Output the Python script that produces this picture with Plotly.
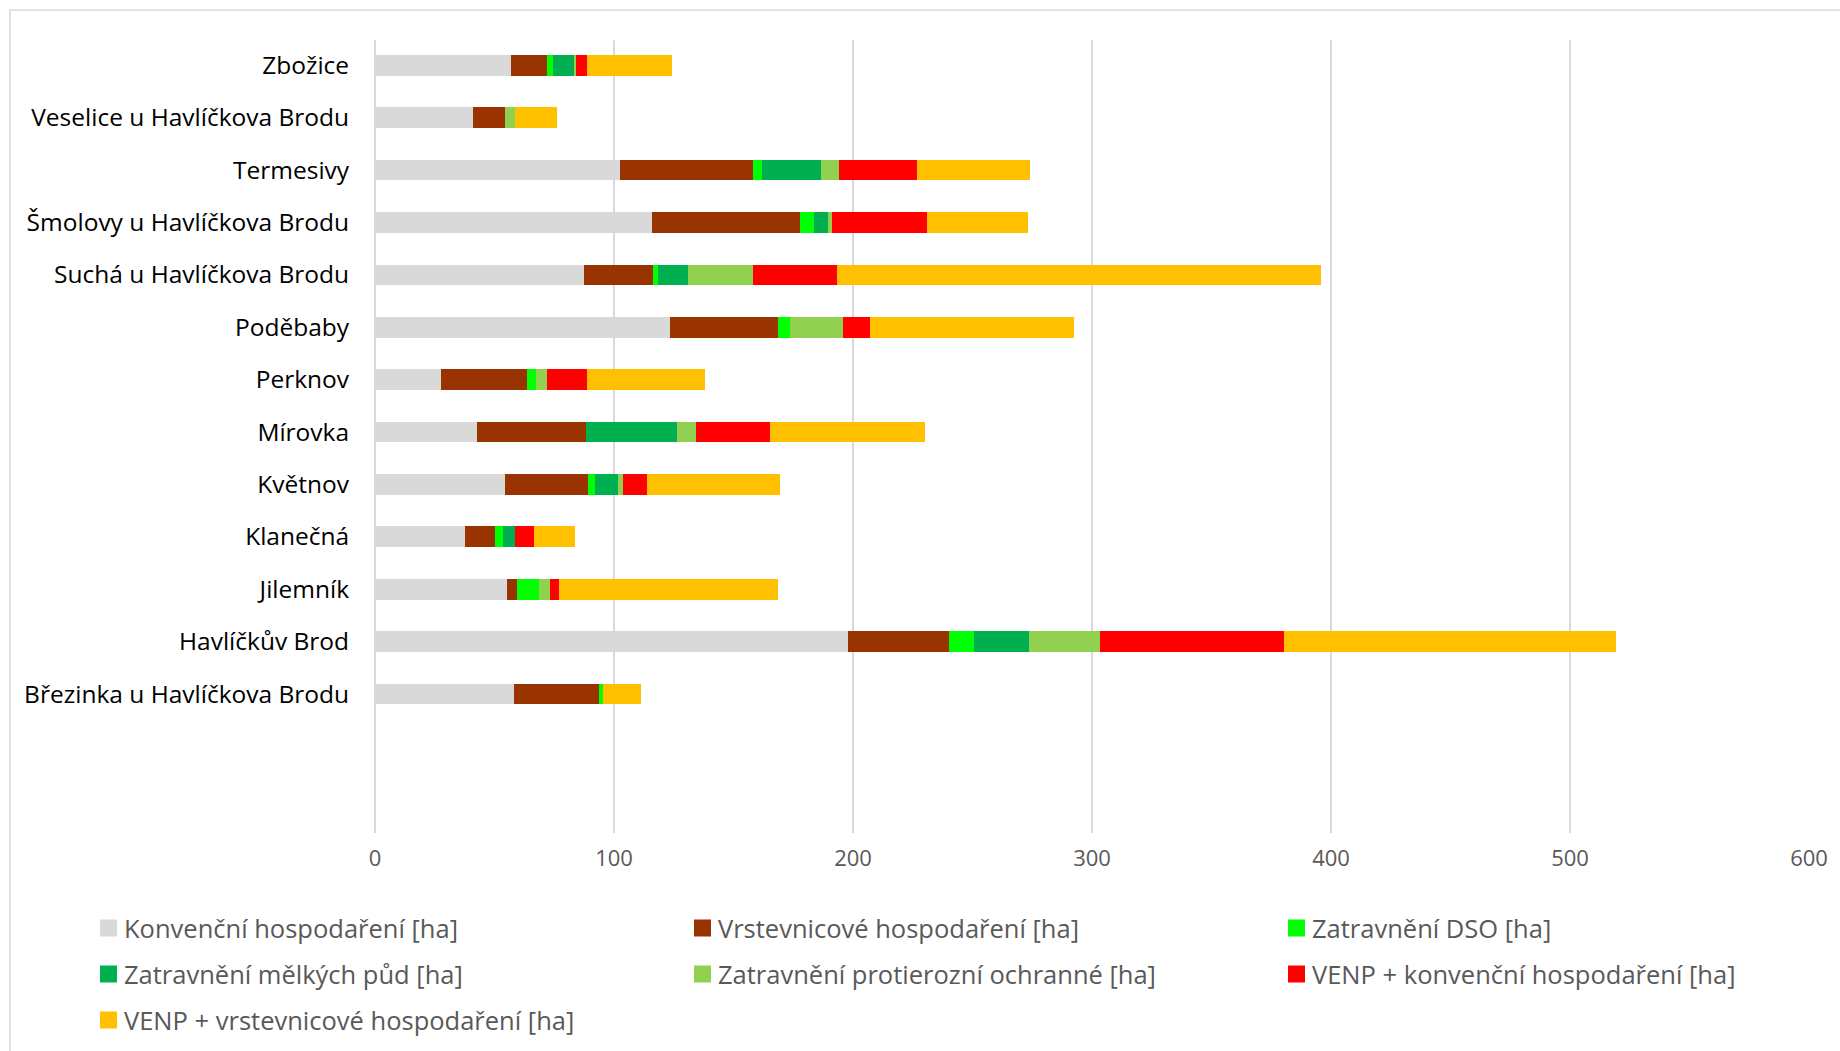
import plotly.graph_objects as go

# Katastrální území (shora dolů)
uzemi = [
    "Zbožice",
    "Veselice u Havlíčkova Brodu",
    "Termesivy",
    "Šmolovy u Havlíčkova Brodu",
    "Suchá u Havlíčkova Brodu",
    "Poděbaby",
    "Perknov",
    "Mírovka",
    "Květnov",
    "Klanečná",
    "Jilemník",
    "Havlíčkův Brod",
    "Březinka u Havlíčkova Brodu",
]

konvencni = [56.9, 41.0, 102.4, 115.8, 87.5, 123.4, 27.8, 42.5, 54.4, 37.6, 55.1, 197.7, 58.2]
vrstevnicove = [15.1, 13.3, 55.9, 62.0, 29.0, 45.3, 35.6, 45.8, 34.8, 12.7, 4.5, 42.3, 35.4]
zatrav_dso = [2.6, 0, 3.5, 5.8, 1.9, 4.8, 4.1, 0, 2.8, 3.1, 9.1, 10.5, 1.9]
zatrav_melke = [8.9, 0, 25.0, 6.0, 12.6, 0, 0, 38.1, 9.6, 5.3, 0, 23.2, 0]
zatrav_protier = [0.5, 4.4, 7.2, 1.5, 27.3, 22.5, 4.5, 8.1, 2.1, 0, 4.6, 29.5, 0]
venp_konv = [4.5, 0, 32.8, 39.7, 34.8, 11.3, 16.8, 30.9, 10.3, 8.0, 3.8, 77.2, 0]
venp_vrst = [35.6, 17.6, 47.4, 42.4, 202.6, 85.3, 49.3, 64.9, 55.4, 16.8, 91.6, 138.9, 16.0]

nazvy = [
    "Konvenční hospodaření [ha]",
    "Vrstevnicové hospodaření [ha]",
    "Zatravnění DSO [ha]",
    "Zatravnění mělkých půd [ha]",
    "Zatravnění protierozní ochranné [ha]",
    "VENP + konvenční hospodaření [ha]",
    "VENP + vrstevnicové hospodaření [ha]",
]
barvy = ["#D9D9D9", "#993300", "#00FF00", "#00B050", "#92D050", "#FF0000", "#FFC000"]
rady = [konvencni, vrstevnicove, zatrav_dso, zatrav_melke, zatrav_protier, venp_konv, venp_vrst]

x_ticks = [0, 100, 200, 300, 400, 500, 600]

W, H = 1840, 1051
ML, MR, MT, MB = 375, 31, 40, 218
PW, PH = W - ML - MR, H - MT - MB

fig = go.Figure()
for nazev, barva, hodnoty in zip(nazvy, barvy, rady):
    fig.add_trace(go.Bar(
        y=uzemi, x=hodnoty, name=nazev, orientation="h",
        marker=dict(color=barva, line=dict(width=0)),
        showlegend=False,
    ))

# Legenda ve třech sloupcích
def px_x(px):
    return (px - ML) / PW

def px_y(py):
    return (H - MB - py) / PH

shapes = []
annotations = []
col_x = [100, 694, 1288]
row_y = [928, 974, 1020]
sq = 17
for i, (nazev, barva) in enumerate(zip(nazvy, barvy)):
    cx = col_x[i % 3]
    cy = row_y[i // 3]
    shapes.append(dict(
        type="rect", xref="paper", yref="paper",
        x0=px_x(cx), x1=px_x(cx + sq), y0=px_y(cy + sq / 2), y1=px_y(cy - sq / 2),
        fillcolor=barva, line=dict(width=0),
    ))
    annotations.append(dict(
        xref="paper", yref="paper", x=px_x(cx + sq + 5), y=px_y(cy),
        xanchor="left", yanchor="middle", showarrow=False, text=nazev,
        font=dict(family="Open Sans", size=25.5, color="#595959"),
    ))

# Rámeček oblasti grafu
shapes.append(dict(
    type="rect", xref="paper", yref="paper",
    x0=px_x(10), x1=px_x(W + 20), y0=px_y(H + 20), y1=px_y(10),
    line=dict(color="#D9D9D9", width=1.5), fillcolor="rgba(0,0,0,0)", layer="below",
))

fig.update_layout(
    width=W, height=H,
    margin=dict(l=ML, r=MR, t=MT, b=MB),
    barmode="stack", bargap=0.605,
    plot_bgcolor="white", paper_bgcolor="white",
    font=dict(family="Open Sans", size=22, color="#595959"),
    shapes=shapes, annotations=annotations,
    showlegend=False,
)
fig.update_xaxes(
    range=[0, 600], tickvals=x_ticks, ticktext=[str(v) for v in x_ticks],
    showgrid=True, gridcolor="#D9D9D9", gridwidth=1.5,
    zeroline=True, zerolinecolor="#D9D9D9", zerolinewidth=1.5,
    showline=False, ticks="outside", ticklen=6, tickcolor="rgba(0,0,0,0)",
    tickfont=dict(family="Open Sans", size=22, color="#595959"),
)
fig.update_yaxes(
    type="category", categoryorder="array", categoryarray=uzemi[::-1],
    range=[-2.653, 12.483], showgrid=False, zeroline=False, showline=False,
    ticks="outside", ticklen=20, tickcolor="rgba(0,0,0,0)",
    tickfont=dict(family="Open Sans", size=24.5, color="#000000"),
)

fig.write_html("out.html")
